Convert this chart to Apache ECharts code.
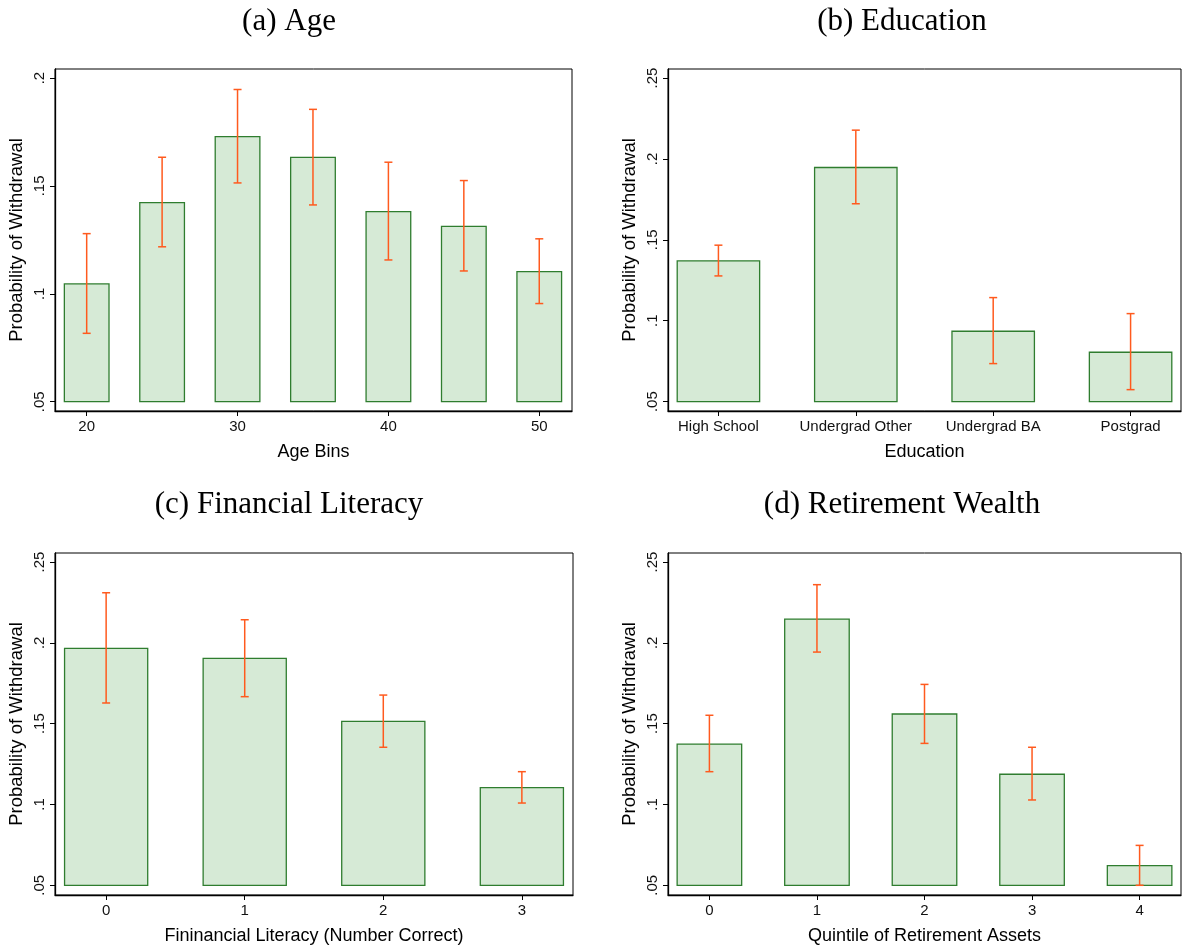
<!DOCTYPE html>
<html>
<head>
<meta charset="utf-8">
<script src="https://cdn.jsdelivr.net/npm/echarts@6/dist/echarts.min.js"></script>
<style>
  html, body { margin: 0; padding: 0; background: #fff; }
  #chart { width: 1185px; height: 947px; }
</style>
</head>
<body>
<div id="chart"></div>
<script>
// ---- Panel (a): Age ----
const ageBins = [20, 25, 30, 35, 40, 45, 50];
const ageMean = [0.1046, 0.1423, 0.1729, 0.1632, 0.1381, 0.1313, 0.1103];
const ageLow  = [0.0817, 0.1218, 0.1514, 0.1412, 0.1157, 0.1106, 0.0955];
const ageHigh = [0.1279, 0.1633, 0.1947, 0.1855, 0.1610, 0.1525, 0.1255];
const ageTicks = [20, 30, 40, 50];

// ---- Panel (b): Education ----
const eduCategories = ['High School', 'Undergrad Other', 'Undergrad BA', 'Postgrad'];
const eduMean = [0.1370, 0.1947, 0.0935, 0.0805];
const eduLow  = [0.1277, 0.1723, 0.0735, 0.0574];
const eduHigh = [0.1467, 0.2178, 0.1143, 0.1044];

// ---- Panel (c): Financial literacy ----
const litCategories = ['0', '1', '2', '3'];
const litMean = [0.1966, 0.1904, 0.1514, 0.1104];
const litLow  = [0.1628, 0.1667, 0.1354, 0.1009];
const litHigh = [0.2310, 0.2143, 0.1677, 0.1203];

// ---- Panel (d): Retirement wealth ----
const wealthCategories = ['0', '1', '2', '3', '4'];
const wealthMean = [0.1374, 0.2147, 0.1560, 0.1187, 0.0622];
const wealthLow  = [0.1203, 0.1943, 0.1378, 0.1028, 0.0500];
const wealthHigh = [0.1552, 0.2360, 0.1743, 0.1354, 0.0747];

const yTicksA = [0.05, 0.1, 0.15, 0.2];
const yTicksB = [0.05, 0.1, 0.15, 0.2, 0.25];

const panelTitles = ['(a) Age', '(b) Education', '(c) Financial Literacy', '(d) Retirement Wealth'];
const xNames = ['Age Bins', 'Education', 'Fininancial Literacy (Number Correct)', 'Quintile of Retirement Assets'];
const yName = 'Probability of Withdrawal';
const barBase = 0.05;

const BAR_FILL = '#d6ead6';
const BAR_EDGE = '#2f7d2f';
const ERR_COLOR = '#ff5a1e';
const SANS = '"Liberation Sans", Arial, Helvetica, sans-serif';
const SERIF = '"Liberation Serif", "DejaVu Serif", serif';

const chart = echarts.init(document.getElementById('chart'), null, { renderer: 'canvas' });

const grids = [
  { left: 55,  top: 69,  width: 517, height: 342 },
  { left: 668, top: 69,  width: 513, height: 342 },
  { left: 55,  top: 553, width: 518, height: 342 },
  { left: 668, top: 553, width: 513, height: 342 }
];

const fmtY = v => String(+v.toFixed(2)).replace(/^0\./, '.');

function xAxisFor(i, min, max, ticks, labelFn) {
  return {
    type: 'value', gridIndex: i, min: min, max: max,
    name: xNames[i], nameLocation: 'middle', nameGap: 32,
    nameTextStyle: { fontFamily: SANS, fontSize: 18, color: '#000' },
    axisLine: { show: true, onZero: false, lineStyle: { color: '#000', width: 1.3 } },
    axisTick: { show: true, length: 5, customValues: ticks, lineStyle: { color: '#000', width: 1 } },
    axisLabel: { show: true, customValues: ticks, margin: 8, fontFamily: SANS, fontSize: 15, color: '#111',
                 formatter: labelFn },
    splitLine: { show: false }
  };
}

function yAxisFor(i, min, max, ticks) {
  return {
    type: 'value', gridIndex: i, min: min, max: max,
    name: yName, nameLocation: 'middle', nameGap: 29,
    nameTextStyle: { fontFamily: SANS, fontSize: 18.5, color: '#000' },
    axisLine: { show: true, onZero: false, lineStyle: { color: '#000', width: 1.3 } },
    axisTick: { show: true, length: 5, customValues: ticks, lineStyle: { color: '#000', width: 1 } },
    axisLabel: { show: true, customValues: ticks, rotate: 90, margin: 8, fontFamily: SANS, fontSize: 15, color: '#111',
                 formatter: fmtY },
    splitLine: { show: false }
  };
}

// Bars drawn from the 0.05 baseline up to each mean, with a given width in x units
function barSeries(i, xs, means, widthUnits) {
  return {
    type: 'custom', xAxisIndex: i, yAxisIndex: i, clip: false,
    data: xs.map((x, k) => [x, means[k]]),
    renderItem: (params, api) => {
      const x = api.value(0), y = api.value(1);
      const p0 = api.coord([x - widthUnits / 2, y]);
      const p1 = api.coord([x + widthUnits / 2, barBase]);
      return {
        type: 'rect',
        shape: { x: p0[0], y: p0[1], width: p1[0] - p0[0], height: p1[1] - p0[1] },
        style: { fill: BAR_FILL, stroke: BAR_EDGE, lineWidth: 1.3 }
      };
    }
  };
}

// Confidence-interval whiskers with short caps
function errSeries(i, xs, lows, highs) {
  return {
    type: 'custom', xAxisIndex: i, yAxisIndex: i, clip: false, z: 5,
    data: xs.map((x, k) => [x, lows[k], highs[k]]),
    renderItem: (params, api) => {
      const x = api.value(0);
      const lo = api.coord([x, api.value(1)]);
      const hi = api.coord([x, api.value(2)]);
      const cap = 4;
      const ls = { stroke: ERR_COLOR, lineWidth: 1.5 };
      return {
        type: 'group',
        children: [
          { type: 'line', shape: { x1: lo[0], y1: lo[1], x2: hi[0], y2: hi[1] }, style: ls },
          { type: 'line', shape: { x1: lo[0] - cap, y1: lo[1], x2: lo[0] + cap, y2: lo[1] }, style: ls },
          { type: 'line', shape: { x1: hi[0] - cap, y1: hi[1], x2: hi[0] + cap, y2: hi[1] }, style: ls }
        ]
      };
    }
  };
}

const idx = arr => arr.map((_, k) => k);

const option = {
  animation: false,
  backgroundColor: '#fff',
  title: [
    { text: panelTitles[0], left: 284, top: 1, textAlign: 'center' },
    { text: panelTitles[1], left: 897, top: 1, textAlign: 'center' },
    { text: panelTitles[2], left: 284, top: 484, textAlign: 'center' },
    { text: panelTitles[3], left: 897, top: 484, textAlign: 'center' }
  ].map(t => Object.assign(t, {
    textStyle: { fontFamily: SERIF, fontSize: 31, fontWeight: 'normal', color: '#000' }
  })),
  grid: grids.map(g => Object.assign({ show: true, borderColor: '#000', borderWidth: 1, backgroundColor: '#fff' }, g)),
  xAxis: [
    xAxisFor(0, 17.9, 52.17, ageTicks, v => String(v)),
    xAxisFor(1, -0.367, 3.367, idx(eduCategories), v => eduCategories[Math.round(v)]),
    xAxisFor(2, -0.369, 3.369, idx(litCategories), v => litCategories[Math.round(v)]),
    xAxisFor(3, -0.385, 4.385, idx(wealthCategories), v => wealthCategories[Math.round(v)])
  ],
  yAxis: [
    yAxisFor(0, 0.0457, 0.2042, yTicksA),
    yAxisFor(1, 0.0442, 0.2556, yTicksB),
    yAxisFor(2, 0.0440, 0.2556, yTicksB),
    yAxisFor(3, 0.0440, 0.2556, yTicksB)
  ],
  series: [
    barSeries(0, ageBins, ageMean, 2.96),
    errSeries(0, ageBins, ageLow, ageHigh),
    barSeries(1, idx(eduCategories), eduMean, 0.6),
    errSeries(1, idx(eduCategories), eduLow, eduHigh),
    barSeries(2, idx(litCategories), litMean, 0.6),
    errSeries(2, idx(litCategories), litLow, litHigh),
    barSeries(3, idx(wealthCategories), wealthMean, 0.6),
    errSeries(3, idx(wealthCategories), wealthLow, wealthHigh)
  ]
};

chart.setOption(option);
</script>
</body>
</html>
